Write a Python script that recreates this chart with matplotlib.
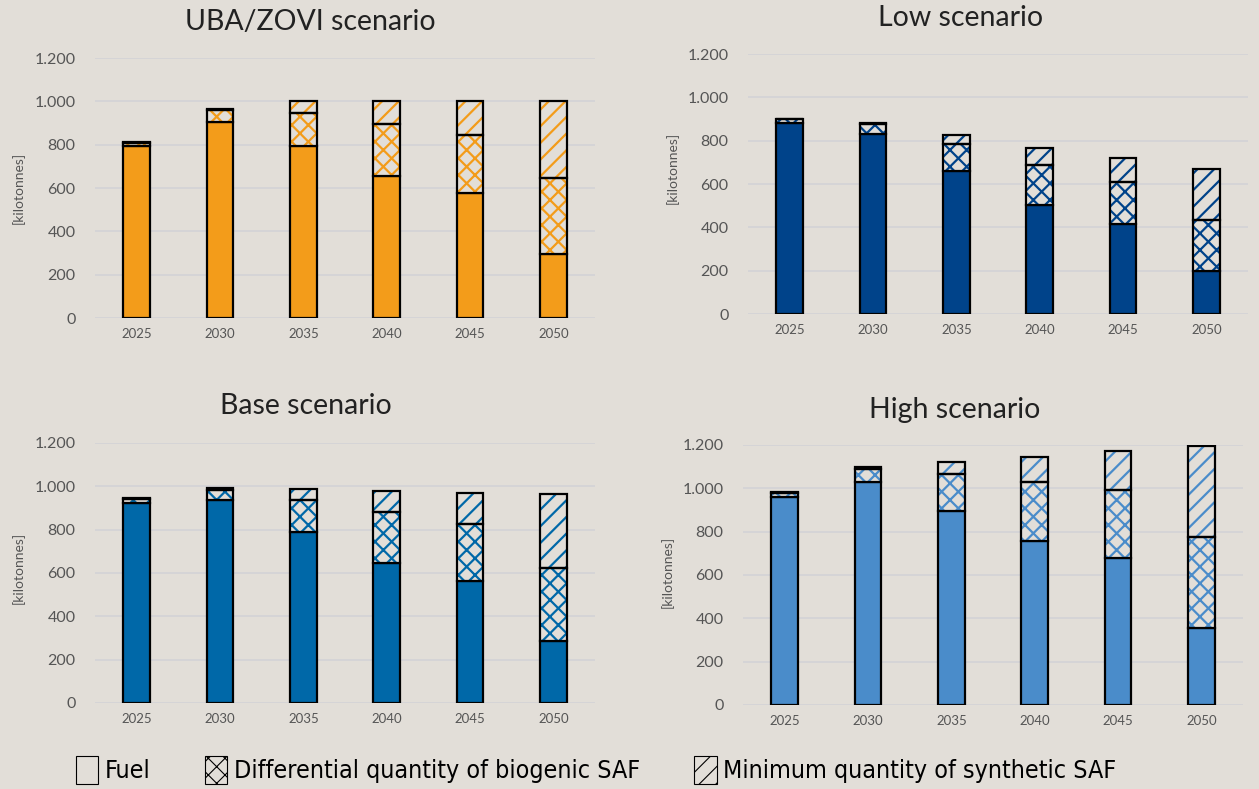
import numpy as np
import matplotlib.pyplot as plt
from matplotlib import font_manager
from matplotlib.patches import Patch
from matplotlib.ticker import FuncFormatter

years = ['2025', '2030', '2035', '2040', '2045', '2050']

# [kilotonnes]
uba_fuel = [795, 905, 795, 655, 575, 295]
uba_bio = [15, 55, 150, 240, 270, 350]
uba_syn = [2, 6, 55, 105, 155, 355]

low_fuel = [880, 830, 660, 505, 415, 198]
low_bio = [18, 48, 123, 185, 195, 237]
low_syn = [2, 5, 42, 78, 108, 235]

base_fuel = [925, 935, 790, 645, 563, 288]
base_bio = [18, 50, 147, 235, 262, 336]
base_syn = [2, 8, 50, 97, 145, 340]

high_fuel = [960, 1030, 897, 755, 678, 357]
high_bio = [20, 60, 168, 276, 314, 420]
high_syn = [2, 8, 58, 115, 179, 420]

bg = '#e2ded8'
plt.rcParams['hatch.linewidth'] = 1.6
plt.rcParams['font.family'] = ['Lato', 'DejaVu Sans']

# legend font is a narrow one in the original; use a condensed face if there is one
cond = [f for f in font_manager.fontManager.ttflist
        if 'ondensed' in f.name or 'Narrow' in f.name or f.stretch in ('condensed', 'semi-condensed')]
cond = [f for f in cond if f.style == 'normal' and f.weight in (400, 'normal', 'regular')] or cond
if cond:
    leg_prop = font_manager.FontProperties(fname=cond[0].fname, size=17.9)
else:
    leg_prop = font_manager.FontProperties(family=['Lato', 'DejaVu Sans'], size=16.5)

fig = plt.figure(figsize=(12.59, 7.89), dpi=100, facecolor=bg)
W, H = 1259, 789

panels = [
    ('UBA/ZOVI scenario', uba_fuel, uba_bio, uba_syn, '#f39c1a', (95, 318), (310, 22), (18, 188)),
    ('Low scenario', low_fuel, low_bio, low_syn, '#00438a', (748, 314), (961, 18), (672, 168)),
    ('Base scenario', base_fuel, base_bio, base_syn, '#0068a8', (95, 703), (306, 406), (18, 568)),
    ('High scenario', high_fuel, high_bio, high_syn, '#4a8cca', (743, 705), (955, 410), (667, 572)),
]

fmt = FuncFormatter(lambda v, p: f'{int(v):,}'.replace(',', '.'))
x = np.arange(len(years))
bw = 0.32

for title, fuel, bio, syn, col, (ax_x, ax_y0), (tx, ty), (lx, ly) in panels:
    ax = fig.add_axes([ax_x / W, (H - ax_y0) / H, 500 / W, 260 / H])
    ax.set_facecolor(bg)
    fuel = np.array(fuel); bio = np.array(bio); syn = np.array(syn)
    ax.bar(x, fuel, bw, color=col, edgecolor='black', linewidth=1.6, zorder=3)
    # hatched parts: hatch in series colour, then black outline on top
    ax.bar(x, bio, bw, bottom=fuel, color=bg, edgecolor=col, hatch='xx', linewidth=0, zorder=3)
    ax.bar(x, bio, bw, bottom=fuel, fill=False, edgecolor='black', linewidth=1.6, zorder=4)
    ax.bar(x, syn, bw, bottom=fuel + bio, color=bg, edgecolor=col, hatch='//', linewidth=0, zorder=3)
    ax.bar(x, syn, bw, bottom=fuel + bio, fill=False, edgecolor='black', linewidth=1.6, zorder=4)
    ax.set_xlim(-0.5, 5.5)
    ax.set_ylim(0, 1200)
    ax.set_yticks(range(0, 1201, 200))
    ax.yaxis.set_major_formatter(fmt)
    ax.set_xticks(x, years)
    ax.grid(axis='y', color='#d3d3d6', linewidth=1.2, zorder=0)
    for s in ax.spines.values():
        s.set_visible(False)
    ax.tick_params(axis='y', length=0, pad=14, labelsize=11.5, labelcolor='#555555')
    ax.tick_params(axis='x', length=0, pad=7, labelsize=9.5, labelcolor='#555555')
    fig.text(tx / W, 1 - ty / H, title, ha='center', va='center', fontsize=20.5, color='#222222')
    fig.text(lx / W, 1 - ly / H, '[kilotonnes]', rotation=90, ha='center', va='center',
             fontsize=10, color='#555555')

plt.rcParams['hatch.linewidth'] = 0.8
handles = [
    Patch(facecolor=bg, edgecolor='black', linewidth=0.8),
    Patch(facecolor=bg, edgecolor='black', linewidth=0.8, hatch='xx'),
    Patch(facecolor=bg, edgecolor='black', linewidth=0.8, hatch='//'),
]
labels = ['Fuel', 'Differential quantity of biogenic SAF', 'Minimum quantity of synthetic SAF']
fig.legend(handles, labels, loc='center', bbox_to_anchor=(596 / W, 1 - 770 / H), ncol=3,
           frameon=False, handlelength=0.9, handleheight=1.4, handletextpad=0.25,
           columnspacing=2.2, prop=leg_prop)

fig.savefig('out.png', dpi=100, facecolor=bg)
